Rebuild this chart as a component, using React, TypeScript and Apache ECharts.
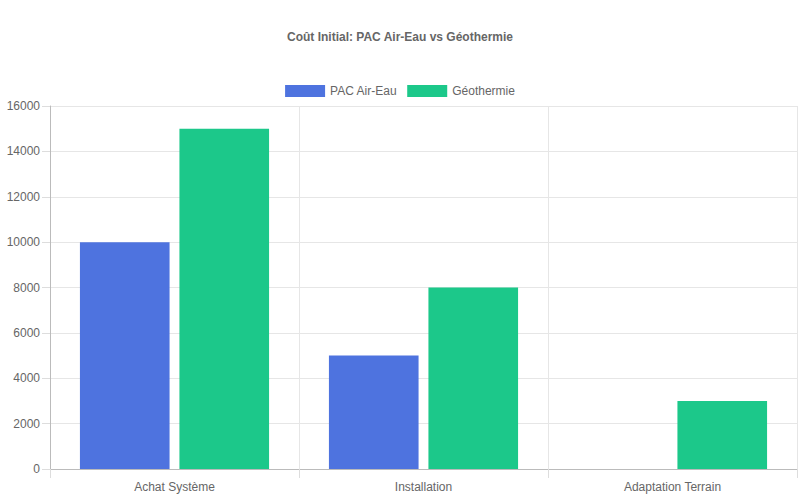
import React, {useEffect, useRef} from 'react';
import * as echarts from 'echarts';

const categories = ['Achat Système', 'Installation', 'Adaptation Terrain'];
const pacAirEau = [10000, 5000, 0];
const geothermie = [15000, 8000, 3000];
const yTicks = {min: 0, max: 16000, interval: 2000};

const App: React.FC = () => {
  const chartRef = useRef<HTMLDivElement | null>(null);

  useEffect(() => {
    document.body.style.margin = '0';
    if (!chartRef.current) return;
    const chart = echarts.init(chartRef.current, null, {renderer: 'svg'});

    const font = 'Liberation Sans, Arial, Helvetica, sans-serif';
    const option: echarts.EChartsOption = {
      animation: false,
      textStyle: {fontFamily: font},
      title: {
        text: 'Coût Initial: PAC Air-Eau vs Géothermie',
        left: 'center',
        top: 26,
        textStyle: {fontSize: 12, fontWeight: 'bold', color: '#666', fontFamily: font}
      },
      legend: {
        top: 80,
        left: 'center',
        itemWidth: 40,
        itemHeight: 12,
        itemGap: 10,
        icon: 'rect',
        textStyle: {fontSize: 12, color: '#666', fontFamily: font}
      },
      grid: {left: 50, right: 3, top: 106, bottom: 31, containLabel: false},
      xAxis: {
        type: 'category',
        data: categories,
        axisLine: {lineStyle: {color: '#bbb'}},
        axisTick: {show: true, length: 9, interval: 0, lineStyle: {color: '#ddd'}},
        splitLine: {show: true, interval: 0, lineStyle: {color: '#e6e6e6'}},
        axisLabel: {color: '#666', fontSize: 12, margin: 12, fontFamily: font}
      },
      yAxis: {
        type: 'value',
        min: yTicks.min,
        max: yTicks.max,
        interval: yTicks.interval,
        axisLine: {show: true, lineStyle: {color: '#bbb'}},
        axisTick: {show: true, length: 8, lineStyle: {color: '#ddd'}},
        splitLine: {show: true, lineStyle: {color: '#e6e6e6'}},
        axisLabel: {
          color: '#666',
          fontSize: 12,
          margin: 10,
          fontFamily: font,
          formatter: (v: number) => String(v)
        }
      },
      series: [
        {
          name: 'PAC Air-Eau',
          type: 'bar',
          data: pacAirEau,
          barWidth: '36%',
          barGap: '11%',
          itemStyle: {color: '#4e73df'}
        },
        {
          name: 'Géothermie',
          type: 'bar',
          data: geothermie,
          barWidth: '36%',
          barGap: '11%',
          itemStyle: {color: '#1cc88a'}
        }
      ]
    };

    chart.setOption(option);
    return () => {
      chart.dispose();
    };
  }, []);

  return <div ref={chartRef} style={{width: '800px', height: '500px'}}/>;
};

export default App;
